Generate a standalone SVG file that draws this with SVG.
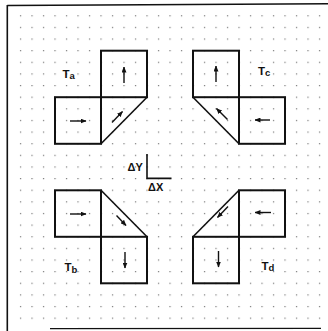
<svg xmlns="http://www.w3.org/2000/svg" width="328" height="331" viewBox="0 0 328 331">
<defs>
<style>
.sq{fill:none;stroke:#111;stroke-width:2;stroke-linejoin:miter}
.dg{fill:none;stroke:#111;stroke-width:1.6}
.ar{stroke:#111;stroke-width:1.4;marker-end:url(#ah)}
.lb{font-family:"Liberation Sans",Arial,sans-serif;font-weight:bold;fill:#111}
.dot{fill:#777}
</style>
<marker id="ah" viewBox="0 0 6 5" refX="5.5" refY="2.5" markerWidth="6" markerHeight="5" markerUnits="userSpaceOnUse" orient="auto">
<path d="M0,0 L6,2.5 L0,5 z" fill="#111"/>
</marker>
<pattern id="dots" x="19.9" y="15.2" width="11.5" height="11.63" patternUnits="userSpaceOnUse">
<rect x="0" y="0" width="1.2" height="1.2" class="dot"/>
</pattern>
</defs>
<rect width="328" height="331" fill="#fff"/>
<g id="grid">
<rect x="19.2" y="14.6" width="303" height="306" fill="url(#dots)"/>
</g>
<g id="frame" fill="none" stroke="#111">
<path d="M7.3,5.5 L328,3.8" stroke-width="1.5"/>
<path d="M7.3,5 L7.3,331" stroke-width="1.6"/>
<path d="M50,328.6 L321,328.4" stroke-width="1.3"/>
</g>
<g id="Ta">
<rect class="sq" x="101" y="50.7" width="46" height="46.5"/>
<rect class="sq" x="55" y="97.2" width="46" height="46.6"/>
<line class="dg" x1="147" y1="97.2" x2="101" y2="143.8"/>
<line class="ar" x1="124" y1="83" x2="124" y2="67"/>
<line class="ar" x1="70" y1="121" x2="86" y2="121"/>
<line class="ar" x1="112" y1="122.5" x2="122.5" y2="111.5"/>
<text class="lb" x="62.5" y="77.5" font-size="11.5">T<tspan font-size="9.5" dy="1.5">a</tspan></text>
</g>
<g id="Tc">
<rect class="sq" x="193" y="50.7" width="46" height="46.5"/>
<rect class="sq" x="239" y="97.2" width="46" height="46.6"/>
<line class="dg" x1="193" y1="97.2" x2="239" y2="143.8"/>
<line class="ar" x1="216" y1="82" x2="216" y2="66"/>
<line class="ar" x1="270" y1="120" x2="255" y2="120"/>
<line class="ar" x1="227.5" y1="119.5" x2="216.5" y2="108.5"/>
<text class="lb" x="258" y="74.5" font-size="11.5">T<tspan font-size="9.5" dy="1.5">c</tspan></text>
</g>
<g id="Tb">
<rect class="sq" x="55" y="190.3" width="46" height="46.5"/>
<rect class="sq" x="101" y="236.8" width="46" height="46.5"/>
<line class="dg" x1="101" y1="190.3" x2="147" y2="236.8"/>
<line class="ar" x1="70" y1="214" x2="86" y2="214"/>
<line class="ar" x1="116.5" y1="215.5" x2="126" y2="225.5"/>
<line class="ar" x1="125" y1="252" x2="125" y2="268"/>
<text class="lb" x="64.5" y="271" font-size="11.5">T<tspan font-size="9.5" dy="1.5">b</tspan></text>
</g>
<g id="Td">
<rect class="sq" x="239" y="190.3" width="46" height="46.5"/>
<rect class="sq" x="193" y="236.8" width="46" height="46.5"/>
<line class="dg" x1="239" y1="190.3" x2="193" y2="236.8"/>
<line class="ar" x1="271" y1="212.5" x2="255" y2="212.5"/>
<line class="ar" x1="228" y1="206.5" x2="217.5" y2="217.5"/>
<line class="ar" x1="218.5" y1="251" x2="218.5" y2="267"/>
<text class="lb" x="261.5" y="269.5" font-size="11.5">T<tspan font-size="9.5" dy="1.5">d</tspan></text>
</g>
<g id="axes">
<path d="M147,154 L147,178.4 L171.5,178.4" fill="none" stroke="#111" stroke-width="1.6"/>
<text class="lb" x="127.5" y="170.5" font-size="11">ΔY</text>
<text class="lb" x="148" y="191" font-size="11">ΔX</text>
</g>
</svg>
